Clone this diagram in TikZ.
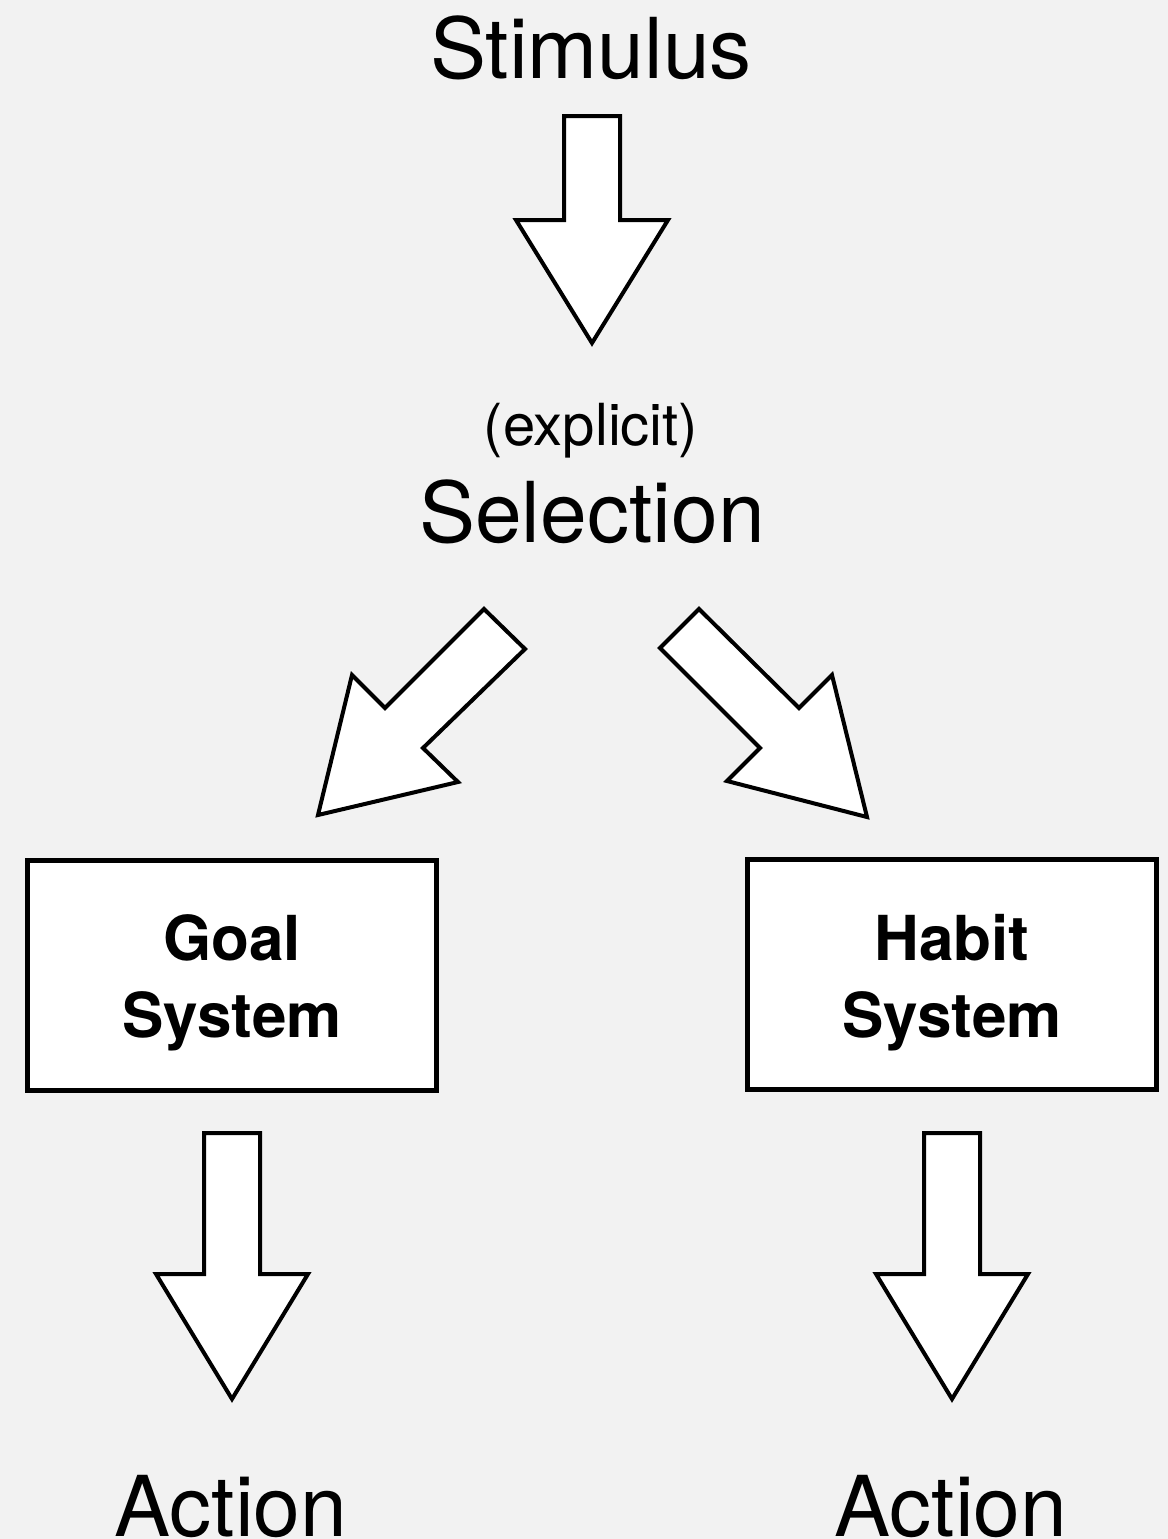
\documentclass[tikz,border=0pt]{standalone}
\usepackage{fontspec}
\setmainfont{TeX Gyre Heros}
\definecolor{bg}{HTML}{F2F2F2}
\begin{document}
\begin{tikzpicture}[x=0.5pt,y=-0.5pt,
  blockarrow/.style={draw=black,fill=white,line width=2pt,line join=miter},
  sysbox/.style={draw=black,fill=white,line width=2.5pt,minimum width=204.5pt,minimum height=115pt,inner sep=0pt},
  systext/.style={align=center,inner sep=0pt,font=\fontsize{31}{38.5}\selectfont\bfseries},
  big/.style={font=\fontsize{42}{50}\selectfont,anchor=base,inner sep=0pt},
  small/.style={font=\fontsize{29}{35}\selectfont,anchor=base,inner sep=0pt}]
\fill[bg] (0,0) rectangle (1168,1539);
\useasboundingbox (0,0) rectangle (1168,1539);

% labels
\node[big] (stim) at (591,78) {Stimulus};
\node[small] (expl) at (591,445) {(explicit)};
\node[big] (sel) at (592,542) {Selection};
\node[big] (act1) at (231,1536) {Action};
\node[big] (act2) at (951,1536) {Action};

% boxes
\node[sysbox] (goal) at (232,975) {};
\node[sysbox] (habit) at (951.5,974.5) {};
\node[systext] (goaltext) at (232,983) {Goal\\System};
\node[systext] (habittext) at (952,983) {Habit\\System};

% block arrows
\draw[blockarrow] (564,116) -- (620,116) -- (620,220) -- (668,220) -- (592,343) -- (516,220) -- (564,220) -- cycle;
\draw[blockarrow] (484,609) -- (525,649) -- (423,748) -- (458,782) -- (318,815) -- (352,675) -- (385,708) -- cycle;
\draw[blockarrow] (699,609) -- (660,648) -- (760,748) -- (727,781) -- (867,817) -- (832,675) -- (799,708) -- cycle;
\draw[blockarrow] (204,1133) -- (260,1133) -- (260,1274) -- (308,1274) -- (232,1399) -- (156,1274) -- (204,1274) -- cycle;
\draw[blockarrow] (924,1133) -- (980,1133) -- (980,1274) -- (1028,1274) -- (952,1399) -- (876,1274) -- (924,1274) -- cycle;
\end{tikzpicture}
\end{document}
